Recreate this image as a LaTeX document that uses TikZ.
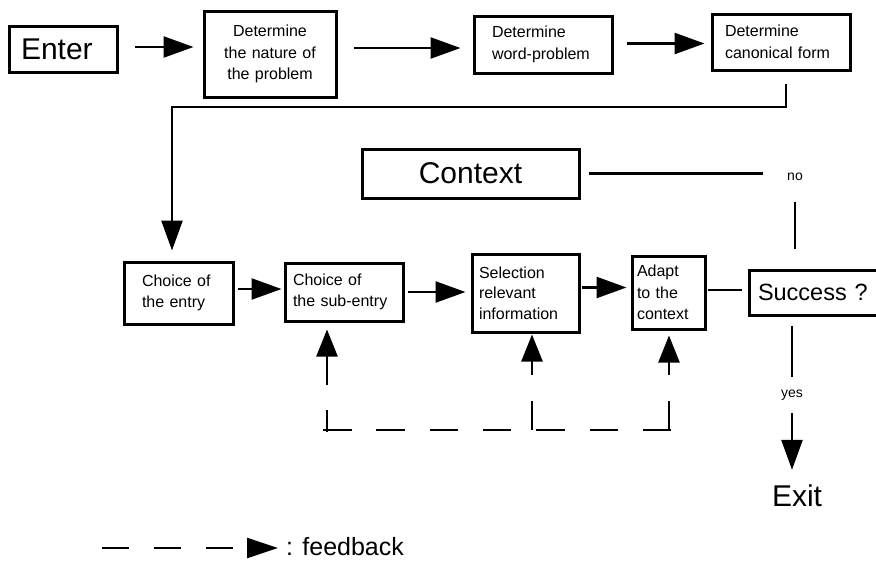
\documentclass[tikz,border=0pt]{standalone}
\usepackage{fontspec}
\setmainfont{Liberation Sans}
\usetikzlibrary{arrows.meta}
\begin{document}
\begin{tikzpicture}[x=1pt,y=-1pt,
  box/.style={draw, line width=3pt, inner sep=0pt, align=left, font=\fontsize{16}{21.5}\selectfont},
  bigtext/.style={font=\fontsize{30}{34}\selectfont},
  ln/.style={line width=2.5pt},
  arr/.style={line width=2.5pt, -{Triangle[length=30pt,width=21pt]}},
  fbarrow/.style={line width=2.5pt, -{Triangle[length=27pt,width=21pt]}},
  fbline/.style={line width=2.5pt, dash pattern=on 28.5pt off 24.8pt},
  lbl/.style={inner sep=0pt, font=\fontsize{14}{16}\selectfont}]
\useasboundingbox (0,0) rectangle (876,560);

% top row
\node[box, bigtext, minimum width=108pt, minimum height=46pt, text width=84pt] (enter) at (63,49) {Enter};
\node[box, align=center, text width=120pt, minimum width=132pt, minimum height=86pt] (nature) at (270,54) {Determine\\the nature of\\the problem};
\node[box, minimum width=138pt, minimum height=57pt, text width=102pt] (word) at (543,44.5) {Determine\\word-problem};
\node[box, minimum width=138pt, minimum height=56pt, text width=112pt] (canon) at (781,42) {Determine\\canonical form};

% context
\node[box, bigtext, align=center, minimum width=217pt, minimum height=49pt] (context) at (470.5,173.5) {Context};

% middle row
\node[box, minimum width=109pt, minimum height=62pt, text width=73pt] (entry) at (178.5,293) {Choice of\\the entry};
\node[box, minimum width=118pt, minimum height=58pt, text width=102pt] (sub) at (344,292) {Choice of\\the sub-entry};
\node[box, font=\fontsize{16}{20.7}\selectfont, minimum width=107pt, minimum height=78pt, text width=93pt] (sel) at (525.5,293) {Selection\\relevant\\information};
\node[box, font=\fontsize{16}{21.3}\selectfont, minimum width=73pt, minimum height=73pt, text width=63pt] (adapt) at (668.5,292.5) {Adapt\\to the\\context};
\node[box, font=\fontsize{23.5}{26}\selectfont, minimum width=136pt, minimum height=45pt, text width=118pt] (success) at (817,292.5) {Success ?};

% labels
\node[lbl] (no) at (795,177) {no};
\node[lbl] (yes) at (792,395) {yes};
\node[bigtext, inner sep=0pt] (exit) at (797,496) {Exit};

% top row connectors
\draw[arr, shorten <=16pt, shorten >=9pt] ([yshift=2pt]enter.east) -- ([yshift=2pt]enter.east -| nature.west);
\draw[arr, shorten <=16pt, shorten >=12pt] ([yshift=6pt]nature.east) -- ([yshift=6pt]nature.east -| word.west);
\draw[arr, shorten <=13pt, shorten >=6pt] ([yshift=1pt]word.east) -- ([yshift=1pt]word.east -| canon.west);

% canonical form -> choice of the entry
\coordinate (turnA) at (786,107);
\coordinate (turnB) at (172,107);
\draw[arr, shorten <=12pt, shorten >=10pt] (turnA |- canon.south) -- (turnA) -- (turnB) -- (turnB |- entry.north);

% middle row connectors
\draw[arr, shorten <=3pt, shorten >=2pt] ([yshift=4pt]entry.east) -- ([yshift=4pt]entry.east -| sub.west);
\draw[arr, shorten <=3pt, shorten >=5pt] (sub.east) -- (sub.east -| sel.west);
\draw[arr, shorten <=1pt, shorten >=4pt] ([yshift=5.5pt]sel.east) -- ([yshift=5.5pt]sel.east -| adapt.west);
\draw[ln, shorten <=1pt, shorten >=6pt] ([yshift=2.5pt]adapt.east) -- ([yshift=2.5pt]adapt.east -| success.west);

% context / no loop
\draw[ln, shorten <=8pt, shorten >=24pt] (context.east) -- (context.east -| no.west);
\draw[ln, shorten <=21pt, shorten >=20pt] (no.south) -- (no.south |- success.north);

% success -> exit
\draw[ln, shorten <=9pt, shorten >=13pt] (yes.north |- success.south) -- (yes.north);
\draw[arr, shorten <=12.5pt, shorten >=15pt] (yes.south) -- (yes.south |- exit.north);

% feedback
\coordinate (fb1) at (327,430);
\coordinate (fb2) at (532,429);
\coordinate (fb3) at (669,429);
\draw[fbline] ([xshift=-4pt]fb1) -- ([xshift=3pt,yshift=-1pt]fb3);
\draw[fbarrow, dash pattern=on 22pt off 25pt on 400pt, shorten >=7pt] ([yshift=-2pt]fb1) -- (fb1 |- sub.south);
\draw[fbarrow, dash pattern=on 29pt off 26pt on 400pt, shorten >=1pt] ([yshift=-1pt]fb2) -- (fb2 |- sel.south);
\draw[fbarrow, dash pattern=on 29pt off 26pt on 400pt, shorten >=5pt] ([yshift=-1pt]fb3) -- (fb3 |- adapt.south);

% legend
\coordinate (lgA) at (102,548);
\coordinate (lgB) at (278,548);
\draw[fbarrow, dash pattern=on 27pt off 25pt, -{Triangle[length=31pt,width=20pt]}] (lgA) -- (lgB);
\node[anchor=base west, inner sep=0pt, font=\fontsize{25}{30}\selectfont] (lgtext) at (286,555) {: feedback};
\end{tikzpicture}
\end{document}
